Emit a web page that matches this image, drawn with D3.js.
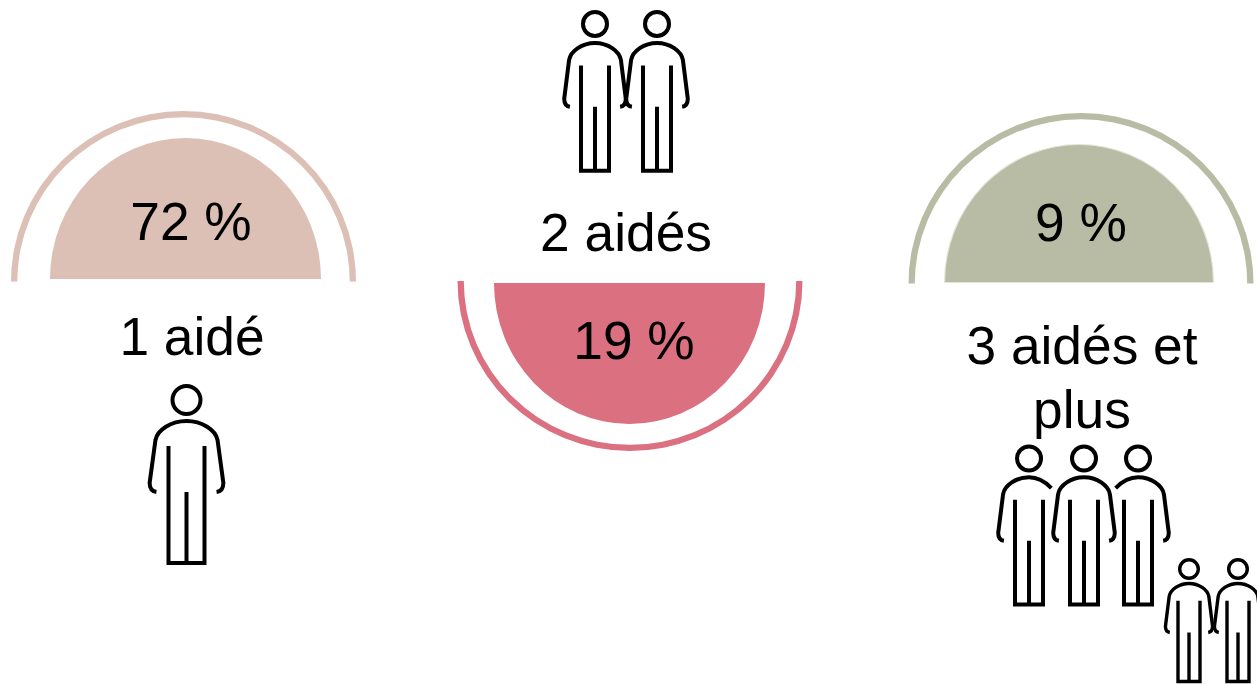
<!DOCTYPE html>
<html>
<head>
<meta charset="utf-8">
<script src="https://cdn.jsdelivr.net/npm/d3@7"></script>
<style>
    html, body { margin: 0; padding: 0; background: #fff; overflow: hidden; }
    text { font-family: "Liberation Sans", Arial, sans-serif; font-size: 53.3px; fill: #000; text-anchor: middle; }
</style>
</head>
<body>
<div id="chart"></div>
<script>
var categories = ["1 aidé", "2 aidés", "3 aidés et plus"];
var shares = [72, 19, 9];
var labelLines = [["1 aidé"], ["2 aidés"], ["3 aidés et", "plus"]];
var colors = ["#dcbfb5", "#db7080", "#b8bca4"];

var width = 1257, height = 684;

// where each half disc sits
var layout = [
    {fx: 185.5, fy: 279, frx: 135.5, fry: 141, rx: 183.5, ry: 281.5, rrx: 172.5, rry: 170.5, up: true,
     valueX: 191, valueY: 240, labelX: 192, labelY: [355]},
    {fx: 629.5, fy: 283, frx: 135.5, fry: 141, rx: 630, ry: 281, rrx: 172.5, rry: 170, up: false,
     valueX: 634, valueY: 359, labelX: 626, labelY: [251]},
    {fx: 1079, fy: 282.5, frx: 134.5, fry: 138, rx: 1081, ry: 283.5, rrx: 172.5, rry: 170.5, up: true,
     edge: "#e4e6da", valueX: 1081, valueY: 241, labelX: 1082, labelY: [364, 428]}
];

// people icons: head centre, scales, head radius, half width of the legs
var people = [
    {x: 186.5, y: 400, sx: 0.97, sy: 1, head: 14, legs: 18, line: 4},
    {x: 595, y: 24, sx: 0.81, sy: 0.9, head: 12, legs: 14, line: 4},
    {x: 657, y: 24, sx: 0.81, sy: 0.9, head: 12, legs: 14, line: 4},
    {x: 1029, y: 458.5, sx: 0.81, sy: 0.895, head: 12, legs: 14, line: 4, noRight: true},
    {x: 1084, y: 458.5, sx: 0.81, sy: 0.895, head: 12, legs: 14, line: 4},
    {x: 1138, y: 458.5, sx: 0.81, sy: 0.895, head: 12, legs: 14, line: 4, noLeft: true},
    {x: 1189, y: 569, sx: 0.62, sy: 0.69, head: 9.3, legs: 11, line: 3.4},
    {x: 1238, y: 569, sx: 0.62, sy: 0.69, head: 9.3, legs: 11, line: 3.4}
];

var svg = d3.select("#chart").append("svg")
    .attr("width", width)
    .attr("height", height)
    .style("display", "block");

var half = d3.arc().innerRadius(0).outerRadius(1);
var ring = d3.arc();

var groups = svg.selectAll("g.part")
    .data(categories)
    .enter().append("g")
    .attr("class", "part");

groups.each(function(d, i) {
    var l = layout[i], g = d3.select(this);
    var start = l.up ? -Math.PI / 2 : Math.PI / 2;
    var end = start + Math.PI;

    g.append("path")
        .attr("d", half({startAngle: start, endAngle: end}))
        .attr("transform", "translate(" + l.fx + "," + l.fy + ") scale(" + l.frx + "," + l.fry + ")")
        .attr("fill", colors[i])
        .attr("stroke", l.edge || "none")
        .attr("stroke-width", 1.2)
        .attr("vector-effect", "non-scaling-stroke");

    g.append("path")
        .attr("d", ring({innerRadius: l.rrx - 6.3, outerRadius: l.rrx, startAngle: start, endAngle: end}))
        .attr("transform", "translate(" + l.rx + "," + l.ry + ") scale(1," + (l.rry / l.rrx) + ")")
        .attr("fill", colors[i]);

    g.append("text")
        .attr("x", l.valueX)
        .attr("y", l.valueY)
        .text(shares[i] + " %");

    labelLines[i].forEach(function(line, j) {
        g.append("text")
            .attr("x", l.labelX)
            .attr("y", l.labelY[j])
            .text(line);
    });
});

function personPath(p) {
    var c = d3.path();
    var k = p.legs / p.sx;   // legs are narrower than the shoulders on the smaller icons
    // shoulders and arms, hand to hand
    if (p.noLeft) {
        c.moveTo(-27.6, 33);
        c.bezierCurveTo(-20, 26, -10, 21, 0, 21);
    } else {
        c.moveTo(-31, 92);
        c.quadraticCurveTo(-38, 91, -38, 83);
        c.lineTo(-32, 40);
        c.bezierCurveTo(-30, 30, -16, 21, 0, 21);
    }
    if (p.noRight) {
        c.bezierCurveTo(10, 21, 20, 26, 27.6, 33);
    } else {
        c.bezierCurveTo(16, 21, 30, 30, 32, 40);
        c.lineTo(38, 83);
        c.quadraticCurveTo(38, 91, 31, 92);
    }
    // legs
    c.moveTo(-k, 46);
    c.lineTo(-k, 163);
    c.lineTo(k, 163);
    c.lineTo(k, 46);
    c.moveTo(0, 92);
    c.lineTo(0, 163);
    return c.toString();
}

var icons = svg.selectAll("g.person")
    .data(people)
    .enter().append("g")
    .attr("class", "person")
    .attr("transform", function(d) { return "translate(" + d.x + "," + d.y + ")"; });

icons.append("circle")
    .attr("r", function(d) { return d.head; })
    .attr("fill", "none")
    .attr("stroke", "#000")
    .attr("stroke-width", function(d) { return d.line; });

icons.append("path")
    .attr("d", personPath)
    .attr("transform", function(d) { return "scale(" + d.sx + "," + d.sy + ")"; })
    .attr("fill", "none")
    .attr("stroke", "#000")
    .attr("stroke-width", function(d) { return d.line; })
    .attr("vector-effect", "non-scaling-stroke");
</script>
</body>
</html>
